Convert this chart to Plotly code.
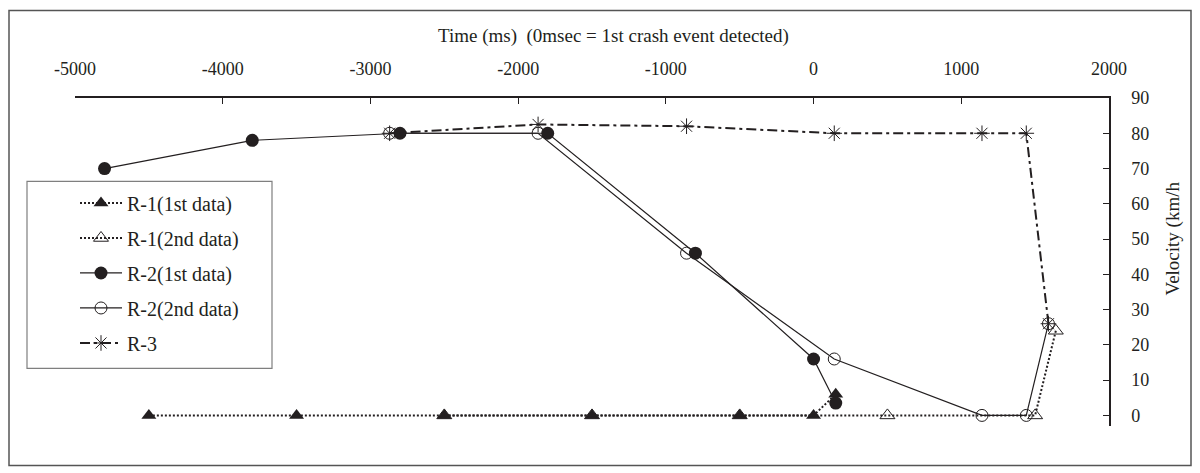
import plotly.graph_objects as go

# ---- data ----
r1_1_x = [-4500, -3500, -2500, -1500, -500, 0, 150]
r1_1_y = [0, 0, 0, 0, 0, 0, 6]

r1_2_x = [-2500, -1500, -500, 500, 1500, 1640]
r1_2_y = [0, 0, 0, 0, 0, 24]

r2_1_x = [-4800, -3800, -2800, -1800, -800, 0, 150]
r2_1_y = [70, 78, 80, 80, 46, 16, 3.5]

r2_2_x = [-2870, -1865, -860, 140, 1140, 1440, 1590]
r2_2_y = [80, 80, 46, 16, 0, 0, 26]

r3_x = [-2870, -1865, -860, 140, 1140, 1440, 1590]
r3_y = [80, 82.5, 82, 80, 80, 80, 26]

x_ticks = [-5000, -4000, -3000, -2000, -1000, 0, 1000, 2000]
x_labels = [str(v) for v in x_ticks]
y_ticks = [0, 10, 20, 30, 40, 50, 60, 70, 80, 90]

INK = "#231F20"
FONT = "Liberation Serif"

fig = go.Figure()
fig.add_trace(go.Scatter(
    x=r1_1_x, y=r1_1_y, name="R-1(1st data)", legendgroup="a",
    mode="lines+markers",
    line=dict(color=INK, width=2, dash="2px,2px"),
    marker=dict(symbol="triangle-up", size=13, color=INK)))
fig.add_trace(go.Scatter(
    x=r1_2_x, y=r1_2_y, name="R-1(2nd data)", legendgroup="b",
    mode="lines+markers",
    line=dict(color=INK, width=2, dash="2px,2px"),
    marker=dict(symbol="triangle-up-open", size=13, color=INK,
                line=dict(color=INK, width=1))))
fig.add_trace(go.Scatter(
    x=r2_1_x, y=r2_1_y, name="R-2(1st data)", legendgroup="c",
    mode="lines+markers",
    line=dict(color=INK, width=1.2),
    marker=dict(symbol="circle", size=13, color=INK)))
fig.add_trace(go.Scatter(
    x=r2_2_x, y=r2_2_y, name="R-2(2nd data)", legendgroup="d",
    mode="lines+markers",
    line=dict(color=INK, width=1.2),
    marker=dict(symbol="circle-open", size=12, color=INK,
                line=dict(color=INK, width=1))))
fig.add_trace(go.Scatter(
    x=r3_x, y=r3_y, name="R-3", legendgroup="e",
    mode="lines+markers",
    line=dict(color=INK, width=2, dash="10px,4px,3px,4px"),
    marker=dict(symbol="asterisk-open", size=13, color=INK,
                line=dict(color=INK, width=1))))

# page body has an 8px margin; work in screen pixels and convert
OFF = 8
FW, FH = 1200 - OFF, 473 - OFF
plot_left, plot_right = 75, 1109
plot_top, plot_bottom = 97.5, 425.6
L = plot_left - OFF
R = FW - (plot_right - OFF)
T = plot_top - OFF
B = FH - (plot_bottom - OFF)
W = plot_right - plot_left
H = plot_bottom - plot_top


def px_x(p):
    return (p - plot_left) / W


def px_y(p):
    return (plot_bottom - p) / H


fig.update_layout(
    width=FW, height=FH,
    margin=dict(l=L, r=R, t=T, b=B, autoexpand=False),
    paper_bgcolor="white", plot_bgcolor="white",
    font=dict(family=FONT, size=18, color=INK),
    showlegend=True,
    legend=dict(
        x=px_x(27), y=px_y(183), xanchor="left", yanchor="top",
        borderwidth=0, bgcolor="rgba(0,0,0,0)",
        font=dict(family=FONT, size=20, color=INK),
        tracegroupgap=6, indentation=48, itemwidth=42,
    ),
    xaxis=dict(
        range=[-5000, 2000], side="top", tickvals=x_ticks, ticktext=x_labels,
        ticks="inside", ticklen=6, tickcolor=INK, tickwidth=1,
        showline=True, linecolor=INK, linewidth=1.5,
        showgrid=False, zeroline=False, ticklabelstandoff=14,
        tickfont=dict(family=FONT, size=18, color=INK),
    ),
    yaxis=dict(
        range=[-3, 90], side="right", tickvals=y_ticks,
        ticks="inside", ticklen=6, tickcolor=INK, tickwidth=1,
        showline=True, linecolor=INK, linewidth=1.5,
        showgrid=False, zeroline=False, ticklabelstandoff=17,
        tickfont=dict(family=FONT, size=18, color=INK),
    ),
    annotations=[
        dict(text="Time (ms)  (0msec = 1st crash event detected)",
             xref="paper", yref="paper", x=px_x(613), y=px_y(35),
             xanchor="center", yanchor="middle", showarrow=False,
             font=dict(family=FONT, size=19, color=INK)),
        dict(text="Velocity (km/h", textangle=-90,
             xref="paper", yref="paper", x=px_x(1173), y=px_y(238),
             xanchor="center", yanchor="middle", showarrow=False,
             font=dict(family=FONT, size=19, color=INK)),
    ],
    shapes=[
        dict(type="rect", xref="paper", yref="paper",
             x0=px_x(9), x1=px_x(1191), y0=px_y(465), y1=px_y(10),
             line=dict(color="#555555", width=1.5), layer="below"),
        dict(type="rect", xref="paper", yref="paper",
             x0=px_x(27), x1=px_x(272), y0=px_y(368), y1=px_y(181),
             line=dict(color="#7F7F7F", width=1.2), fillcolor="white",
             layer="below"),
    ],
)

fig.write_html("out.html")
